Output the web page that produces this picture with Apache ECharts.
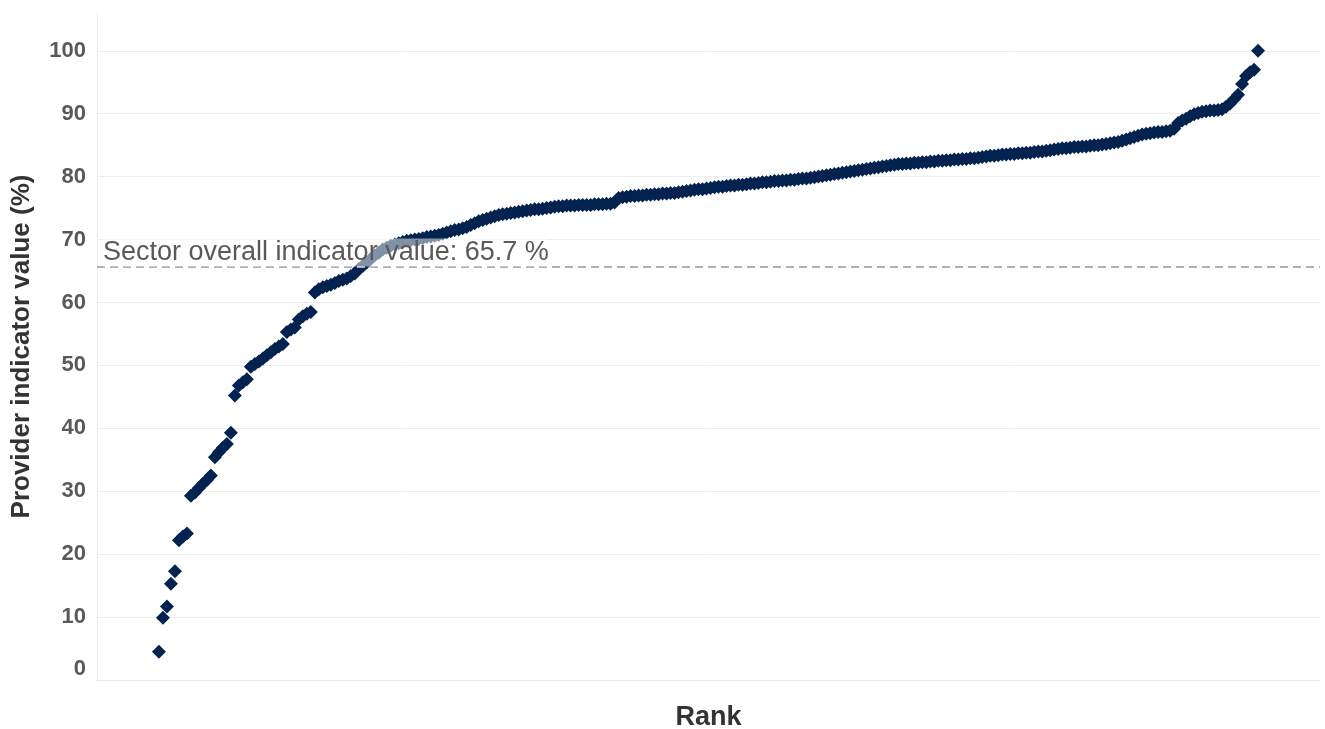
<!DOCTYPE html>
<html>
<head>
<meta charset="utf-8">
<script src="https://cdn.jsdelivr.net/npm/echarts@6/dist/echarts.min.js"></script>
<style>
html,body{margin:0;padding:0;background:#fff;}
#chart{width:1325px;height:729px;}
</style>
</head>
<body>
<div id="chart"></div>
<script>
// Provider indicator values (%), sorted by rank
const values = [
  4.5, 9.9, 11.7, 15.3, 17.3, 22.2, 22.8, 23.3, 29.3, 29.8,
  30.5, 31.2, 31.8, 32.5, 35.4, 36.2, 36.9, 37.5, 39.3, 45.2,
  46.8, 47.3, 47.8, 49.8, 50.2, 50.6, 51.1, 51.6, 52.1, 52.6,
  53.0, 53.4, 55.3, 55.7, 56.0, 57.3, 57.8, 58.2, 58.5, 61.6,
  62.1, 62.4, 62.6, 62.8, 63.1, 63.4, 63.6, 63.8, 64.2, 64.6,
  65.3, 65.8, 66.4, 66.9, 67.5, 67.9, 68.4, 68.7, 69.0, 69.2,
  69.4, 69.6, 69.8, 69.9, 70.0, 70.1, 70.2, 70.4, 70.5, 70.6,
  70.7, 70.9, 71.1, 71.3, 71.5, 71.6, 71.8, 72.0, 72.3, 72.6,
  72.9, 73.1, 73.3, 73.5, 73.7, 73.9, 74.0, 74.1, 74.2, 74.3,
  74.4, 74.5, 74.6, 74.7, 74.8, 74.8, 74.9, 75.0, 75.1, 75.2,
  75.3, 75.3, 75.4, 75.4, 75.4, 75.5, 75.5, 75.5, 75.5, 75.6,
  75.6, 75.6, 75.7, 75.7, 75.9, 76.6, 76.7, 76.8, 76.9, 76.9,
  77.0, 77.0, 77.1, 77.1, 77.2, 77.2, 77.3, 77.3, 77.4, 77.4,
  77.5, 77.6, 77.7, 77.8, 77.9, 78.0, 78.0, 78.1, 78.2, 78.3,
  78.4, 78.4, 78.5, 78.6, 78.6, 78.7, 78.7, 78.8, 78.9, 78.9,
  79.0, 79.1, 79.1, 79.2, 79.3, 79.3, 79.4, 79.4, 79.5, 79.5,
  79.6, 79.7, 79.7, 79.8, 79.9, 80.0, 80.1, 80.2, 80.3, 80.4,
  80.5, 80.6, 80.7, 80.8, 80.9, 81.0, 81.1, 81.2, 81.3, 81.4,
  81.5, 81.6, 81.7, 81.8, 81.9, 82.0, 82.0, 82.1, 82.1, 82.2,
  82.2, 82.3, 82.3, 82.4, 82.4, 82.5, 82.5, 82.6, 82.6, 82.7,
  82.7, 82.8, 82.8, 82.9, 82.9, 83.0, 83.1, 83.2, 83.3, 83.3,
  83.4, 83.5, 83.5, 83.6, 83.6, 83.7, 83.7, 83.8, 83.8, 83.9,
  84.0, 84.0, 84.1, 84.2, 84.3, 84.4, 84.5, 84.5, 84.6, 84.7,
  84.7, 84.8, 84.8, 84.9, 85.0, 85.0, 85.1, 85.2, 85.3, 85.4,
  85.5, 85.7, 85.9, 86.1, 86.3, 86.5, 86.7, 86.8, 86.9, 87.0,
  87.1, 87.1, 87.2, 87.3, 87.6, 88.5, 88.9, 89.2, 89.6, 89.9,
  90.1, 90.3, 90.4, 90.5, 90.5, 90.6, 90.7, 91.1, 91.6, 92.3,
  93.0, 94.7, 96.0, 96.6, 97.0, 100.0
];
const ranks = values.map((v, i) => i + 1);
const sectorValue = 65.7;
const sectorLabel = 'Sector overall indicator value: 65.7 %';
const yTicks = [0, 10, 20, 30, 40, 50, 60, 70, 80, 90, 100];
const xName = 'Rank';
const yName = 'Provider indicator value (%)';

const points = ranks.map((r, i) => [r, values[i]]);
const FONT = '"Liberation Sans", Arial, sans-serif';

const chart = echarts.init(document.getElementById('chart'), null, {renderer: 'canvas'});
chart.setOption({
  animation: false,
  backgroundColor: '#ffffff',
  grid: {left: 97, right: 5, top: 13, bottom: 49, containLabel: false, outerBoundsMode: 'none'},
  xAxis: {
    type: 'value',
    min: -14.5,
    max: ranks.length + 15.5,
    name: xName,
    nameLocation: 'middle',
    nameGap: 24,
    nameTextStyle: {fontFamily: FONT, fontSize: 27, fontWeight: 'bold', color: '#333333'},
    axisLine: {show: true, onZero: false, lineStyle: {color: '#e6e6e6', width: 1}},
    axisTick: {show: false},
    axisLabel: {show: false},
    splitLine: {show: false}
  },
  yAxis: {
    type: 'value',
    min: 0,
    max: 106,
    interval: 10,
    name: yName,
    nameLocation: 'middle',
    nameGap: 62,
    nameTextStyle: {fontFamily: FONT, fontSize: 26, fontWeight: 'bold', color: '#333333', padding: [0, 0, 0, 0]},
    axisLine: {show: true, onZero: false, lineStyle: {color: '#eeeeee', width: 1}},
    axisTick: {show: false},
    axisLabel: {
      margin: 11,
      fontFamily: FONT,
      fontSize: 22,
      fontWeight: 'bold',
      color: '#595959',
      formatter: function (v) {
        if (yTicks.indexOf(v) < 0) return '';
        return v === 0 ? '{z|0}' : '{n|' + v + '}';
      },
      rich: {
        n: {fontFamily: FONT, fontSize: 22, fontWeight: 'bold', color: '#595959'},
        z: {fontFamily: FONT, fontSize: 22, fontWeight: 'bold', color: '#595959', padding: [0, 0, 22, 0]}
      }
    },
    splitLine: {show: true, showMaxLine: false, lineStyle: {color: '#ededed', width: 1}}
  },
  series: [
    {
      type: 'line',
      data: [],
      z: 1,
      markLine: {
        silent: true,
        symbol: 'none',
        lineStyle: {type: [8, 5], color: '#b0b0b0', width: 2},
        label: {show: false},
        data: [{yAxis: sectorValue}]
      }
    },
    {
      type: 'scatter',
      data: points,
      z: 2,
      symbol: 'diamond',
      symbolSize: 14,
      itemStyle: {color: '#02234f', opacity: 1}
    },
    {
      type: 'line',
      data: [],
      z: 3,
      markLine: {
        silent: true,
        symbol: 'none',
        lineStyle: {color: 'rgba(0,0,0,0)', width: 0},
        label: {
          show: true,
          position: 'insideStartTop',
          distance: [6, 0],
          formatter: sectorLabel,
          fontFamily: FONT,
          fontSize: 27,
          lineHeight: 28,
          color: '#595959',
          backgroundColor: 'rgba(255,255,255,0.5)',
          padding: [0, 0, 0, 0]
        },
        data: [{yAxis: sectorValue}]
      }
    }
  ]
});
</script>
</body>
</html>
